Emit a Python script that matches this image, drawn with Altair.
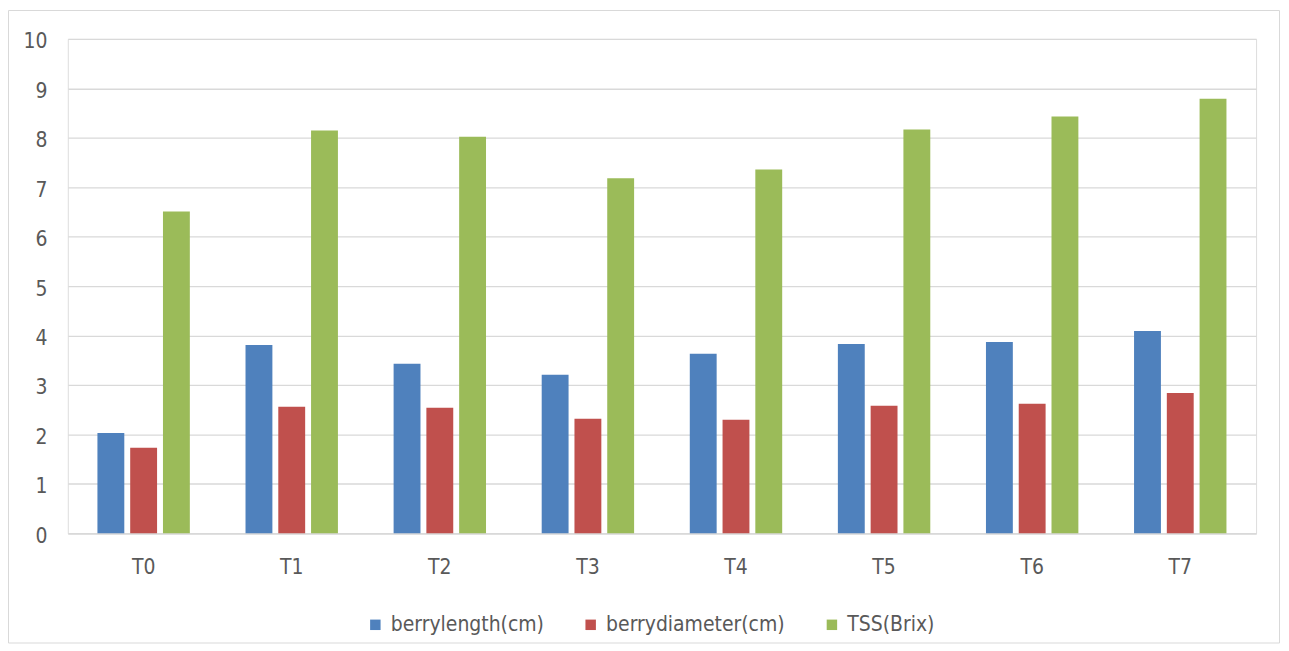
import altair as alt
import pandas as pd

categories = ["T0", "T1", "T2", "T3", "T4", "T5", "T6", "T7"]
series_names = ["berrylength(cm)", "berrydiameter(cm)", "TSS(Brix)"]
berry_length = [2.03, 3.81, 3.43, 3.21, 3.63, 3.83, 3.87, 4.09]
berry_diameter = [1.73, 2.56, 2.54, 2.32, 2.30, 2.58, 2.62, 2.84]
tss_brix = [6.51, 8.15, 8.02, 7.18, 7.36, 8.17, 8.43, 8.79]
y_ticks = [0, 1, 2, 3, 4, 5, 6, 7, 8, 9, 10]
colors = ["#4f81bd", "#c0504d", "#9bbb59"]

rows = []
for name, vals in zip(series_names, [berry_length, berry_diameter, tss_brix]):
    for c, v in zip(categories, vals):
        rows.append({"treatment": c, "series": name, "value": v})
df = pd.DataFrame(rows)

FONT = "DejaVu Sans Condensed, Liberation Sans Narrow, sans-serif"
TXT = "#595959"
GRID = "#d9d9d9"

bars = alt.Chart(df).mark_bar().encode(
    x=alt.X(
        "treatment:N",
        sort=categories,
        scale=alt.Scale(paddingInner=0.376, paddingOuter=0.2),
        axis=alt.Axis(
            title=None, labelAngle=0, ticks=False, grid=False,
            domainColor=GRID, domainWidth=1.5,
            labelPadding=23, labelFontSize=21, labelColor=TXT, labelFont=FONT,
        ),
    ),
    xOffset=alt.XOffset(
        "series:N", sort=series_names,
        scale=alt.Scale(paddingInner=0.18, paddingOuter=0),
    ),
    y=alt.Y(
        "value:Q",
        scale=alt.Scale(domain=[0, 10], nice=False),
        axis=alt.Axis(
            title=None, values=y_ticks, domain=False, ticks=False,
            grid=True, gridColor=GRID, gridWidth=1.3,
            labelPadding=21, labelOffset=3, labelFontSize=21,
            labelColor=TXT, labelFont=FONT,
        ),
    ),
    color=alt.Color(
        "series:N",
        sort=series_names,
        scale=alt.Scale(domain=series_names, range=colors),
        legend=alt.Legend(
            title=None, orient="none", direction="horizontal",
            legendX=298, legendY=577,
            symbolType="square", symbolSize=110, symbolStrokeWidth=0,
            labelFontSize=21, labelColor=TXT, labelFont=FONT, labelLimit=0,
            labelOffset=5, columnPadding=36,
        ),
    ),
)

frame = alt.Chart(alt.Data(values=[{"k": 1}])).mark_rect(
    fillOpacity=0, stroke=GRID, strokeWidth=1
).encode(
    x=alt.value(-59.5), x2=alt.value(1215.5),
    y=alt.value(-28.5), y2=alt.value(606),
)

chart = alt.layer(frame, bars).properties(
    width=1192,
    height=496,
    padding={"left": 60, "top": 30, "right": 25, "bottom": 111},
    autosize=alt.AutoSizeParams(type="none"),
).configure_view(stroke=None).configure(background="white")

chart.save("out.html", embed_options={"renderer": "svg", "actions": False})
